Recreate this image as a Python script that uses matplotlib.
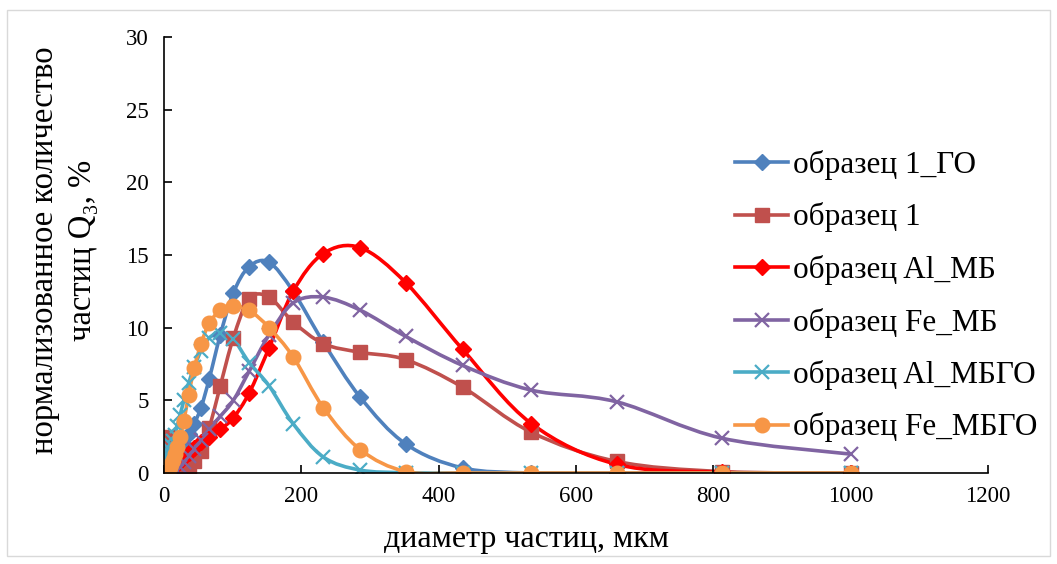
import numpy as np
import matplotlib
matplotlib.use("Agg")
import matplotlib.pyplot as plt
from matplotlib.path import Path
from matplotlib.patches import PathPatch, Rectangle
from matplotlib.lines import Line2D

plt.rcParams['font.family'] = ['Liberation Serif', 'DejaVu Serif']

# particle diameter bins, µm
diam = [1.0, 1.2, 1.5, 1.9, 2.4, 2.9, 3.6, 4.4, 5.4, 6.6, 8.2, 10, 12.5, 15.5, 19, 23.5,
        29, 36, 44, 54, 66, 82, 101, 124, 153, 188, 232, 286, 352, 435, 535, 659, 812, 1000]

s_1_go = [0, 0, 0, 0, 0, 0.02, 0.05, 0.05, 0.1, 0.15, 0.25, 0.35, 0.5, 0.7, 1.0, 1.4,
          2.0, 2.7, 3.4, 4.5, 6.5, 9.5, 12.4, 14.2, 14.5, 12.5, 9.0, 5.2, 2.0, 0.35, 0, 0, 0, 0]
s_1 = [0, 0, 0.1, 0.3, 0.8, 1.5, 2.2, 2.5, 2.3, 1.6, 0.8, 0.3, 0.1, 0.05, 0.05, 0.1,
       0.2, 0.4, 0.8, 1.5, 3.1, 6.0, 9.3, 12.0, 12.1, 10.4, 8.9, 8.3, 7.8, 5.9, 2.8, 0.8, 0.1, 0]
s_al_mb = [0, 0, 0, 0, 0, 0, 0, 0, 0.05, 0.1, 0.2, 0.3, 0.4, 0.5, 0.65, 0.85,
           1.1, 1.4, 1.7, 2.1, 2.5, 3.0, 3.8, 5.5, 8.6, 12.5, 15.1, 15.5, 13.1, 8.5, 3.4, 0.6, 0.05, 0]
s_fe_mb = [0, 0, 0, 0, 0, 0, 0, 0, 0, 0, 0, 0, 0, 0.05, 0.15, 0.4,
           0.75, 1.2, 1.65, 2.3, 3.0, 3.9, 5.0, 7.0, 9.5, 11.7, 12.1, 11.2, 9.4, 7.4, 5.7, 4.9, 2.4, 1.3]
s_al_mbgo = [0, 0.05, 0.15, 0.3, 0.45, 0.6, 0.8, 1.0, 1.2, 1.4, 1.6, 1.9, 2.2, 2.6, 3.2, 4.0,
             5.0, 6.2, 7.3, 8.4, 9.3, 9.6, 9.2, 7.6, 6.0, 3.4, 1.1, 0.2, 0.02, 0, 0, 0, 0, 0]
s_fe_mbgo = [0, 0, 0, 0, 0, 0, 0.05, 0.1, 0.15, 0.25, 0.4, 0.6, 0.9, 1.3, 1.8, 2.5,
             3.6, 5.4, 7.2, 8.9, 10.3, 11.2, 11.5, 11.2, 10.0, 8.0, 4.5, 1.6, 0.1, 0, 0, 0, 0, 0]

labels = ['образец 1_ГО', 'образец 1', 'образец Al_МБ', 'образец Fe_МБ',
          'образец Al_МБГО', 'образец Fe_МБГО']
series = [s_1_go, s_1, s_al_mb, s_fe_mb, s_al_mbgo, s_fe_mbgo]
colors = ['#4F81BD', '#C0504D', '#FF0000', '#8064A2', '#4BACC6', '#F79646']
markers = ['D', 's', 'D', 'x', 'x', 'o']
msizes = [8, 9.5, 8, 10, 10, 10.5]

x_ticks = [0, 200, 400, 600, 800, 1000, 1200]
y_ticks = [0, 5, 10, 15, 20, 25, 30]


def smooth_path(x, y):
    p = np.column_stack([x, y]).astype(float)
    n = len(p)
    verts = [p[0]]
    codes = [Path.MOVETO]
    for i in range(n - 1):
        pm = p[i - 1] if i > 0 else p[i]
        pn2 = p[i + 2] if i + 2 < n else p[i + 1]
        c1 = p[i] + (p[i + 1] - pm) / 6.0
        c2 = p[i + 1] - (pn2 - p[i]) / 6.0
        verts += [c1, c2, p[i + 1]]
        codes += [Path.CURVE4] * 3
    return Path(verts, codes)


fig = plt.figure(figsize=(10.57, 5.64), dpi=100)
fig.patches.append(Rectangle((7 / 1057, 1 - 556 / 564), 1043 / 1057, 546 / 564,
                             transform=fig.transFigure, fill=False,
                             edgecolor='#D9D9D9', linewidth=1.0))
ax = fig.add_axes([164 / 1057, 1 - 473 / 564, (988 - 164) / 1057, (473 - 37) / 564])

handles = []
for s, lab, c, m, ms in zip(series, labels, colors, markers, msizes):
    patch = PathPatch(smooth_path(diam, s), facecolor='none', edgecolor=c,
                      linewidth=2.6, capstyle='round', joinstyle='round')
    ax.add_patch(patch)
    mew = 1.6 if m == 'x' else 1.0
    ax.plot(diam, s, linestyle='none', marker=m, markersize=ms, color=c,
            markeredgecolor=c, markeredgewidth=mew)
    handles.append(Line2D([0], [0], color=c, linewidth=2.6, marker=m, markersize=ms,
                          markeredgecolor=c, markeredgewidth=mew))

ax.set_xlim(0, 1200)
ax.set_ylim(0, 30)
ax.set_xticks(x_ticks)
ax.set_yticks(y_ticks)
ax.tick_params(direction='in', length=6, width=1.2, labelsize=16.5)
ax.tick_params(axis='y', pad=11)
ax.tick_params(axis='x', pad=9)
for sp in ['top', 'right']:
    ax.spines[sp].set_visible(False)
for sp in ['left', 'bottom']:
    ax.spines[sp].set_linewidth(1.2)

fig.legend(handles, labels, loc='upper left', bbox_to_anchor=(735 / 1057, 1 - 150 / 564),
           frameon=False, fontsize=22.5, handlelength=1.7, handletextpad=0.16,
           labelspacing=0.72, borderpad=0, borderaxespad=0)

fig.text(526 / 1057, 1 - 540 / 564, 'диаметр частиц, мкм', ha='center', va='center',
         fontsize=23)
fig.text(64 / 1057, 1 - 250 / 564, 'нормализованное количество\nчастиц Q₃, %',
         rotation=90, ha='center', va='center', multialignment='center', fontsize=23.5,
         linespacing=1.3)

fig.savefig('out.png', dpi=100)
